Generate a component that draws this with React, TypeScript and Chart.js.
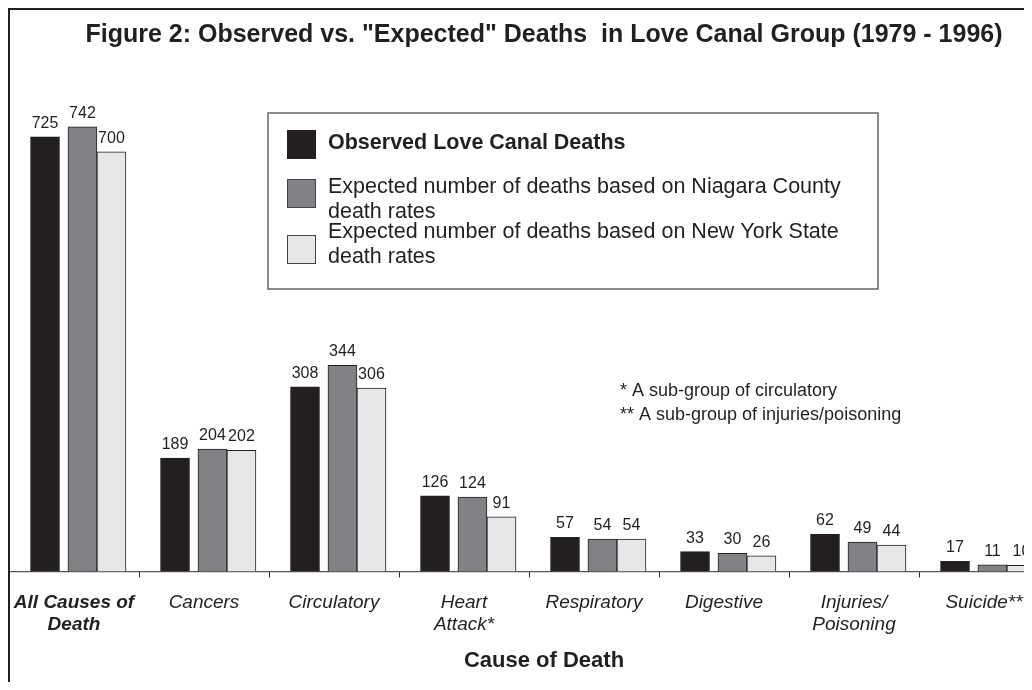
import React, { useEffect, useRef } from "react";
import { Chart, registerables } from "chart.js";

Chart.register(...registerables);

// ---------- data ----------
const categories: string[][] = [
  ["All Causes of", "Death"],
  ["Cancers"],
  ["Circulatory"],
  ["Heart", "Attack*"],
  ["Respiratory"],
  ["Digestive"],
  ["Injuries/", "Poisoning"],
  ["Suicide**"],
];
const observed = [725, 189, 308, 126, 57, 33, 62, 17];
const niagaraExpected = [742, 204, 344, 124, 54, 30, 49, 11];
const nyStateExpected = [700, 202, 306, 91, 54, 26, 44, 10];
const legendLines: string[][] = [
  ["Observed Love Canal Deaths"],
  ["Expected number of deaths based on Niagara County", "death rates"],
  ["Expected number of deaths based on New York State", "death rates"],
];
const footnotes = ["* A sub-group of circulatory", "** A sub-group of injuries/poisoning"];
const titleText = 'Figure 2: Observed vs. "Expected" Deaths  in Love Canal Group (1979 - 1996)';
const axisTitle = "Cause of Death";

// ---------- style ----------
const FONT = "'Liberation Sans', Arial, Helvetica, sans-serif";
const INK = "#231f20";
const fills = ["#231f20", "#808285", "#e6e7e8"];
const offsets = [-0.223, 0.065, 0.288]; // bar centre shift within category (category units)

const legendPlugin = {
  id: "boxLegend",
  afterDraw(chart: any) {
    const ctx = chart.ctx;
    ctx.save();
    ctx.strokeStyle = "#666";
    ctx.lineWidth = 1.5;
    ctx.strokeRect(260, 105, 610, 176);
    const squares = [122, 171, 227];
    const lineY = [[135], [179, 204], [224, 249]];
    chart.data.datasets.forEach((ds: any, i: number) => {
      ctx.fillStyle = ds.backgroundColor;
      ctx.fillRect(279, squares[i], 29, 29);
      ctx.strokeStyle = i === 0 ? INK : "#444";
      ctx.lineWidth = 1;
      ctx.strokeRect(279.5, squares[i] + 0.5, 28, 28);
      ctx.fillStyle = INK;
      ctx.font = (i === 0 ? "bold " : "") + "21.5px " + FONT;
      ctx.textBaseline = "middle";
      ctx.textAlign = "left";
      legendLines[i].forEach((t, j) => ctx.fillText(t, 320, lineY[i][j]));
    });
    ctx.font = "18px " + FONT;
    ctx.fillStyle = INK;
    footnotes.forEach((t, j) => ctx.fillText(t, 612, 383 + j * 24));
    ctx.restore();
  },
};

const valueLabels = {
  id: "valueLabels",
  afterDatasetsDraw(chart: any) {
    const ctx = chart.ctx;
    ctx.save();
    ctx.font = "16px " + FONT;
    ctx.fillStyle = INK;
    ctx.textAlign = "center";
    ctx.textBaseline = "alphabetic";
    chart.data.datasets.forEach((ds: any, i: number) => {
      const meta = chart.getDatasetMeta(i);
      meta.data.forEach((el: any, k: number) => {
        const v = ds.data[k].y;
        ctx.fillText(String(v), el.x, el.y - 9);
      });
    });
    ctx.restore();
  },
};

export default function App() {
  const ref = useRef<HTMLCanvasElement>(null);
  useEffect(() => {
    document.documentElement.style.overflow = "hidden";
    const series = [observed, niagaraExpected, nyStateExpected];
    const hiddenAxes: any = {};
    const datasets = series.map((vals, i) => {
      const id = "xs" + i;
      hiddenAxes[id] = {
        type: "linear",
        display: false,
        offset: false,
        bounds: "ticks",
        min: -0.5 - offsets[i],
        max: categories.length - 0.5 - offsets[i],
      };
      return {
        label: legendLines[i].join(" "),
        data: vals.map((v, k) => ({ x: k, y: v })),
        xAxisID: id,
        yAxisID: "y",
        backgroundColor: fills[i],
        borderColor: INK,
        borderWidth: 1,
        barThickness: 29,
        grouped: false,
      };
    });
    const chart = new Chart(ref.current as HTMLCanvasElement, {
      type: "bar",
      data: { labels: categories as any, datasets: datasets as any },
      options: {
        responsive: false,
        animation: false,
        layout: { padding: 0 },
        plugins: {
          legend: { display: false },
          tooltip: { enabled: false },
          title: {
            display: true,
            text: titleText,
            color: INK,
            font: { family: FONT, size: 25, weight: "bold", lineHeight: 1.2 },
            padding: { top: 12, bottom: 42 },
          },
          subtitle: {
            display: true,
            position: "bottom",
            text: axisTitle,
            color: INK,
            font: { family: FONT, size: 22, weight: "bold", lineHeight: 1.2 },
            padding: { top: 11.6, bottom: 7.8 },
          },
        },
        scales: {
          x: {
            type: "category",
            position: "bottom",
            offset: true,
            afterFit: (s: any) => {
              s.paddingLeft = 1;
              s.paddingRight = 31;
              s.height = s.height - 14;
            },
            grid: {
              display: true,
              offset: true,
              drawOnChartArea: false,
              drawTicks: true,
              tickLength: 6,
              tickColor: INK,
              tickWidth: 1,
            },
            border: { display: true, color: "#555", width: 1.2 },
            ticks: {
              color: INK,
              padding: 13.6,
              maxRotation: 0,
              autoSkip: false,
              font: (c: any) => ({
                family: FONT,
                size: 19,
                style: "italic",
                weight: c.index === 0 ? "bold" : "normal",
                lineHeight: 1.2,
              }),
            },
          },
          ...hiddenAxes,
          y: { type: "linear", display: false, min: 0, max: 800 },
        },
      } as any,
      plugins: [valueLabels, legendPlugin],
    });
    return () => chart.destroy();
  }, []);
  return (
    <div style={{ position: "relative", width: 1024, height: 674, overflow: "hidden", background: "#fff" }}>
      <canvas
        ref={ref}
        width={1072}
        height={674}
        style={{ position: "absolute", left: 0, top: 0, width: 1072, height: 674 }}
      />
      <div
        style={{
          position: "absolute",
          left: 0,
          top: 0,
          width: 2000,
          height: 2000,
          borderLeft: "2px solid " + INK,
          borderTop: "2px solid " + INK,
          pointerEvents: "none",
        }}
      />
    </div>
  );
}
